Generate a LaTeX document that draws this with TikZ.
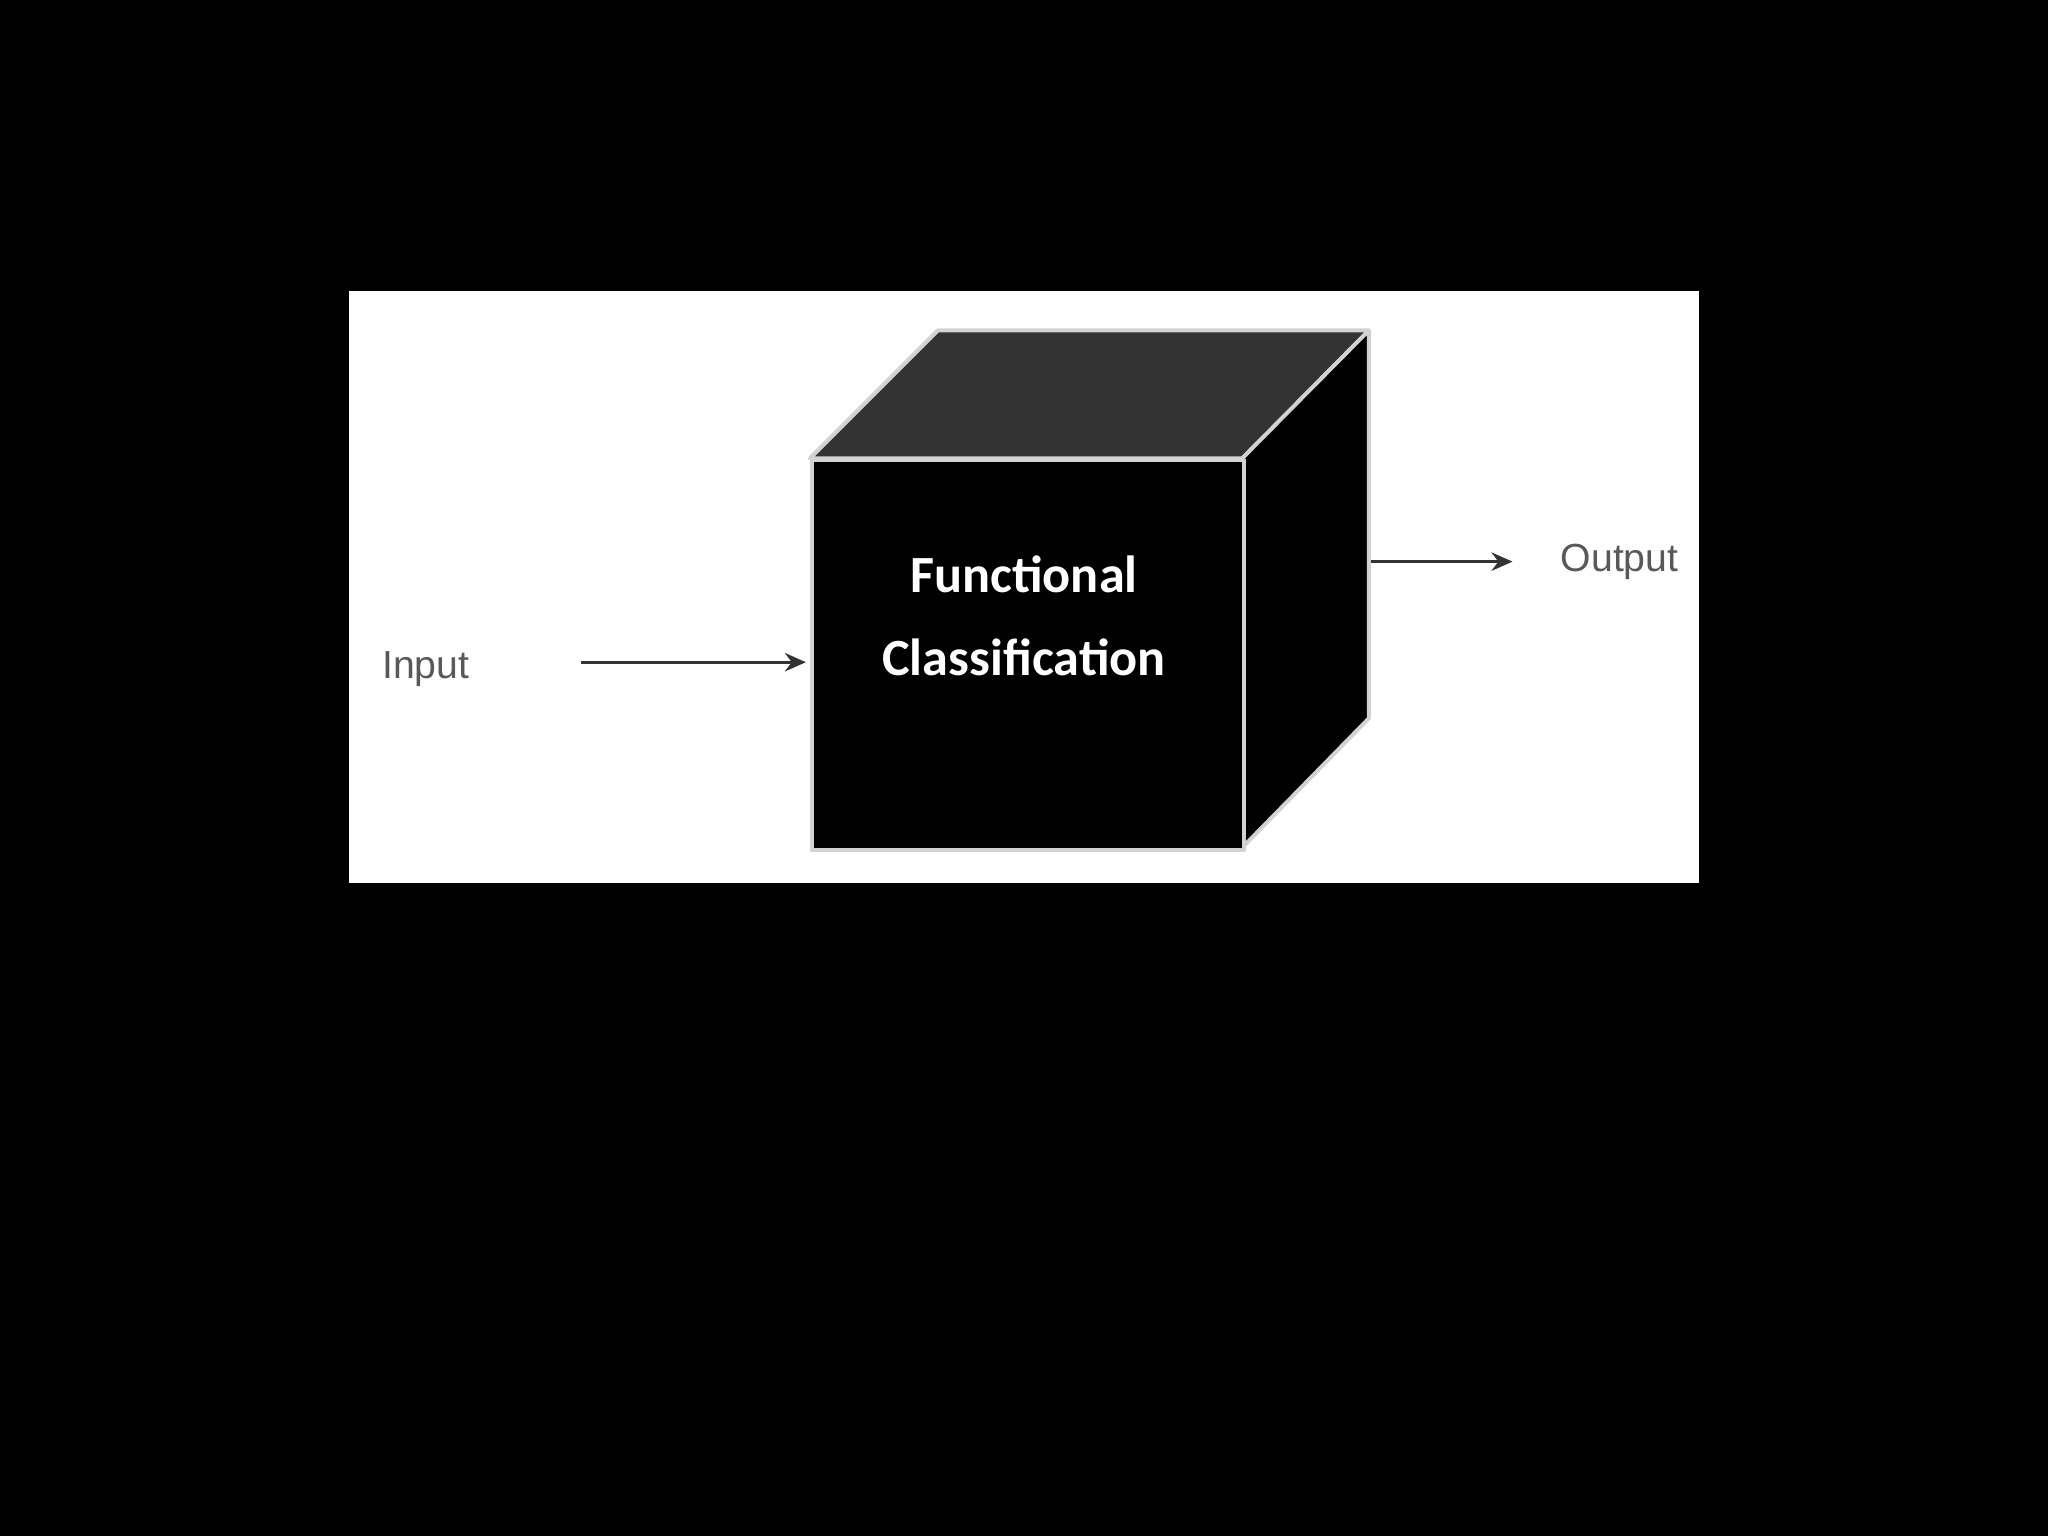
\documentclass[tikz,border=0pt]{standalone}
\usepackage{fontspec}
\setmainfont{Carlito}
\newfontfamily\arialf{Liberation Sans}
\usetikzlibrary{arrows.meta}
\begin{document}
\begin{tikzpicture}[x=0.5pt,y=-0.5pt,
  edge/.style={draw=gray!35,line width=1.5pt,line join=round},
  arr/.style={draw=black!80,line width=1.3pt,-{Stealth[length=8pt,width=7pt]}},
  lbl/.style={font=\arialf\fontsize{15}{18}\selectfont,text=black!65},
  title/.style={font=\bfseries\fontsize{20}{24}\selectfont,text=white,align=center}]
\fill[black] (0,0) rectangle (1568,1176);
\useasboundingbox (0,0) rectangle (1568,1176);
\fill[white] (267,223) rectangle (1301,676);
% top face
\path[edge,fill=black!80] (620,351) -- (718,253) -- (1048,253) -- (951,351) -- cycle;
% right face
\path[edge,fill=black] (951,351) -- (1048,253) -- (1048,550) -- (951,649) -- cycle;
% front face
\node[edge,fill=black,minimum width=331*0.5pt,minimum height=298*0.5pt,inner sep=0,anchor=north west] (box) at (620,351) {};
\node[title] (t1) at (784,440) {Functional};
\node[title] (t2) at (784,503) {Classification};
\node[lbl] (in) at (326,512) {Input};
\node[lbl] (out) at (1240,430) {Output};
\coordinate (a1) at (445,507);
\coordinate (a2) at (617,507);
\coordinate (b1) at (1050,430);
\coordinate (b2) at (1158,430);
\draw[arr] (a1) -- (a2);
\draw[arr] (b1) -- (b2);
\end{tikzpicture}
\end{document}
